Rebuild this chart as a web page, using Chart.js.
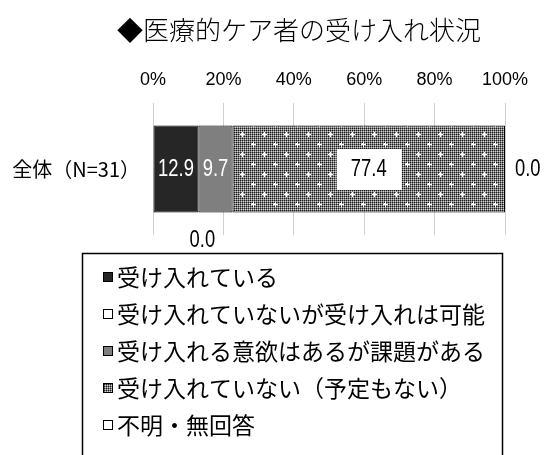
<!DOCTYPE html>
<html lang="ja">
<head>
<meta charset="utf-8">
<title>医療的ケア者の受け入れ状況</title>
<script src="https://cdn.jsdelivr.net/npm/chart.js@4.4.1/dist/chart.umd.min.js"></script>
<style>
  html, body { margin: 0; padding: 0; background: #fff; }
  #wrap { width: 546px; height: 455px; }
</style>
</head>
<body>
<div id="wrap"><canvas id="myChart" width="546" height="455"></canvas></div>
<script>
// values (%)
const categories = ["全体（N=31）"];
const accepting = [12.9];
const notYetButPossible = [0.0];
const willingWithIssues = [9.7];
const notAccepting = [77.4];
const unknownAnswer = [0.0];
const seriesNames = [
  "受け入れている",
  "受け入れていないが受け入れは可能",
  "受け入れる意欲はあるが課題がある",
  "受け入れていない（予定もない）",
  "不明・無回答",
];
const tickValues = [0, 20, 40, 60, 80, 100];
const tickLabels = ["0%", "20%", "40%", "60%", "80%", "100%"];

const JP = '"Noto Sans CJK JP", "Noto Sans", sans-serif';
const NUM = '"Liberation Sans", Arial, sans-serif';

// grey halftone with staggered white crosses
function makeDotPattern() {
  const c = document.createElement("canvas");
  c.width = 22;
  c.height = 20;
  const g = c.getContext("2d");
  g.fillStyle = "#7c7c7c";
  g.fillRect(0, 0, 22, 20);
  for (let y = 0; y < 20; y++) {
    for (let x = 0; x < 22; x++) {
      if (x % 2 === 0 && y % 2 === 0) {
        g.fillStyle = "#1c1c1c";
        g.fillRect(x, y, 1, 1);
      } else if (x % 2 === 1 && y % 2 === 1) {
        g.fillStyle = "#cfcfcf";
        g.fillRect(x, y, 1, 1);
      }
    }
  }
  g.fillStyle = "#fff";
  [[11, 4], [0, 14], [22, 14]].forEach(([cx, cy]) => {
    g.fillRect(cx - 2, cy, 5, 1);
    g.fillRect(cx, cy - 2, 1, 5);
    g.fillRect(cx - 1, cy - 1, 2, 2);
  });
  return g.createPattern(c, "repeat");
}

const dotPattern = makeDotPattern();

// condensed number text (horizontal squeeze)
function narrowText(ctx, text, x, y, align) {
  const squeeze = 0.8;
  ctx.save();
  ctx.translate(x, y);
  ctx.scale(squeeze, 1);
  ctx.textAlign = align;
  ctx.fillText(text, 0, 0);
  ctx.restore();
}

// value labels on each segment
const segmentLabels = {
  id: "segmentLabels",
  afterDatasetsDraw(chart) {
    const ctx = chart.ctx;
    ctx.save();
    ctx.font = "23px " + NUM;
    ctx.textBaseline = "middle";
    chart.data.datasets.forEach((ds, i) => {
      const meta = chart.getDatasetMeta(i);
      meta.data.forEach((bar, j) => {
        const p = bar.getProps(["x", "base", "y", "height"], true);
        const text = ds.data[j].toFixed(1);
        const cx = (p.x + p.base) / 2;
        if (ds.labelPos === "inside") {
          ctx.fillStyle = ds.labelColor;
          narrowText(ctx, text, cx, p.y + 1, "center");
        } else if (ds.labelPos === "boxed") {
          ctx.fillStyle = "#fff";
          ctx.fillRect(cx - 32, p.y - 20, 65, 41);
          ctx.fillStyle = "#000";
          narrowText(ctx, text, cx, p.y + 1, "center");
        } else if (ds.labelPos === "below") {
          ctx.fillStyle = "#000";
          narrowText(ctx, text, cx + 4, p.y + p.height / 2 + 28, "center");
        } else if (ds.labelPos === "right") {
          ctx.fillStyle = "#000";
          narrowText(ctx, text, p.x + 10, p.y + 1, "left");
        }
      });
    });
    ctx.restore();
  },
};

// title and boxed legend
const titleAndLegend = {
  id: "titleAndLegend",
  afterDraw(chart) {
    const ctx = chart.ctx;
    ctx.save();
    ctx.fillStyle = "#000";
    ctx.font = "normal 300 26px " + JP;
    ctx.textAlign = "center";
    ctx.textBaseline = "middle";
    ctx.fillText("◆医療的ケア者の受け入れ状況", 299, 30);

    ctx.strokeStyle = "#000";
    ctx.lineWidth = 1.5;
    ctx.strokeRect(82.5, 253.5, 420, 230);

    ctx.font = "normal 400 23px " + JP;
    ctx.textAlign = "left";
    chart.data.datasets.forEach((ds, i) => {
      const cy = 277 + i * 37;
      ctx.fillStyle = ds.backgroundColor;
      ctx.fillRect(103, cy - 5, 10, 10);
      ctx.lineWidth = 1;
      ctx.strokeStyle = "#000";
      ctx.strokeRect(103.5, cy - 4.5, 9, 9);
      ctx.fillStyle = "#000";
      ctx.fillText(ds.label, 117, cy);
    });
    ctx.restore();
  },
};

const datasetStyle = {
  borderColor: "#000",
  borderWidth: 1,
  borderSkipped: false,
  barPercentage: 0.66,
  categoryPercentage: 1,
};

new Chart(document.getElementById("myChart"), {
  type: "bar",
  data: {
    labels: categories,
    datasets: [
      { ...datasetStyle, label: seriesNames[0], data: accepting, backgroundColor: "#262626", labelPos: "inside", labelColor: "#fff" },
      { ...datasetStyle, label: seriesNames[1], data: notYetButPossible, backgroundColor: "#fff", borderColor: "#bfbfbf", labelPos: "below" },
      { ...datasetStyle, label: seriesNames[2], data: willingWithIssues, backgroundColor: "#7f7f7f", labelPos: "inside", labelColor: "#fff" },
      { ...datasetStyle, label: seriesNames[3], data: notAccepting, backgroundColor: dotPattern, labelPos: "boxed" },
      { ...datasetStyle, label: seriesNames[4], data: unknownAnswer, backgroundColor: "#fff", labelPos: "right" },
    ],
  },
  options: {
    indexAxis: "y",
    responsive: false,
    animation: false,
    layout: { padding: { left: 0, right: 41, top: 0, bottom: 220 } },
    plugins: {
      legend: { display: false },
      title: { display: false },
      tooltip: { enabled: false },
    },
    scales: {
      x: {
        position: "top",
        stacked: true,
        min: 0,
        max: 100,
        afterBuildTicks(scale) {
          scale.ticks = tickValues.map((v) => ({ value: v }));
        },
        afterFit(scale) {
          scale.height = 103;
        },
        ticks: {
          padding: 12,
          color: "#000",
          font: { family: NUM, size: 18 },
          callback: (v, i) => tickLabels[i],
        },
        grid: { color: "#d0d0d0", lineWidth: 1, drawTicks: false },
        border: { display: false },
      },
      y: {
        stacked: true,
        afterFit(scale) {
          scale.width = 153;
        },
        ticks: {
          padding: 13,
          color: "#000",
          font: { family: JP, size: 20 },
        },
        grid: { display: false, drawTicks: false },
        border: { display: false },
      },
    },
  },
  plugins: [segmentLabels, titleAndLegend],
});
</script>
</body>
</html>
